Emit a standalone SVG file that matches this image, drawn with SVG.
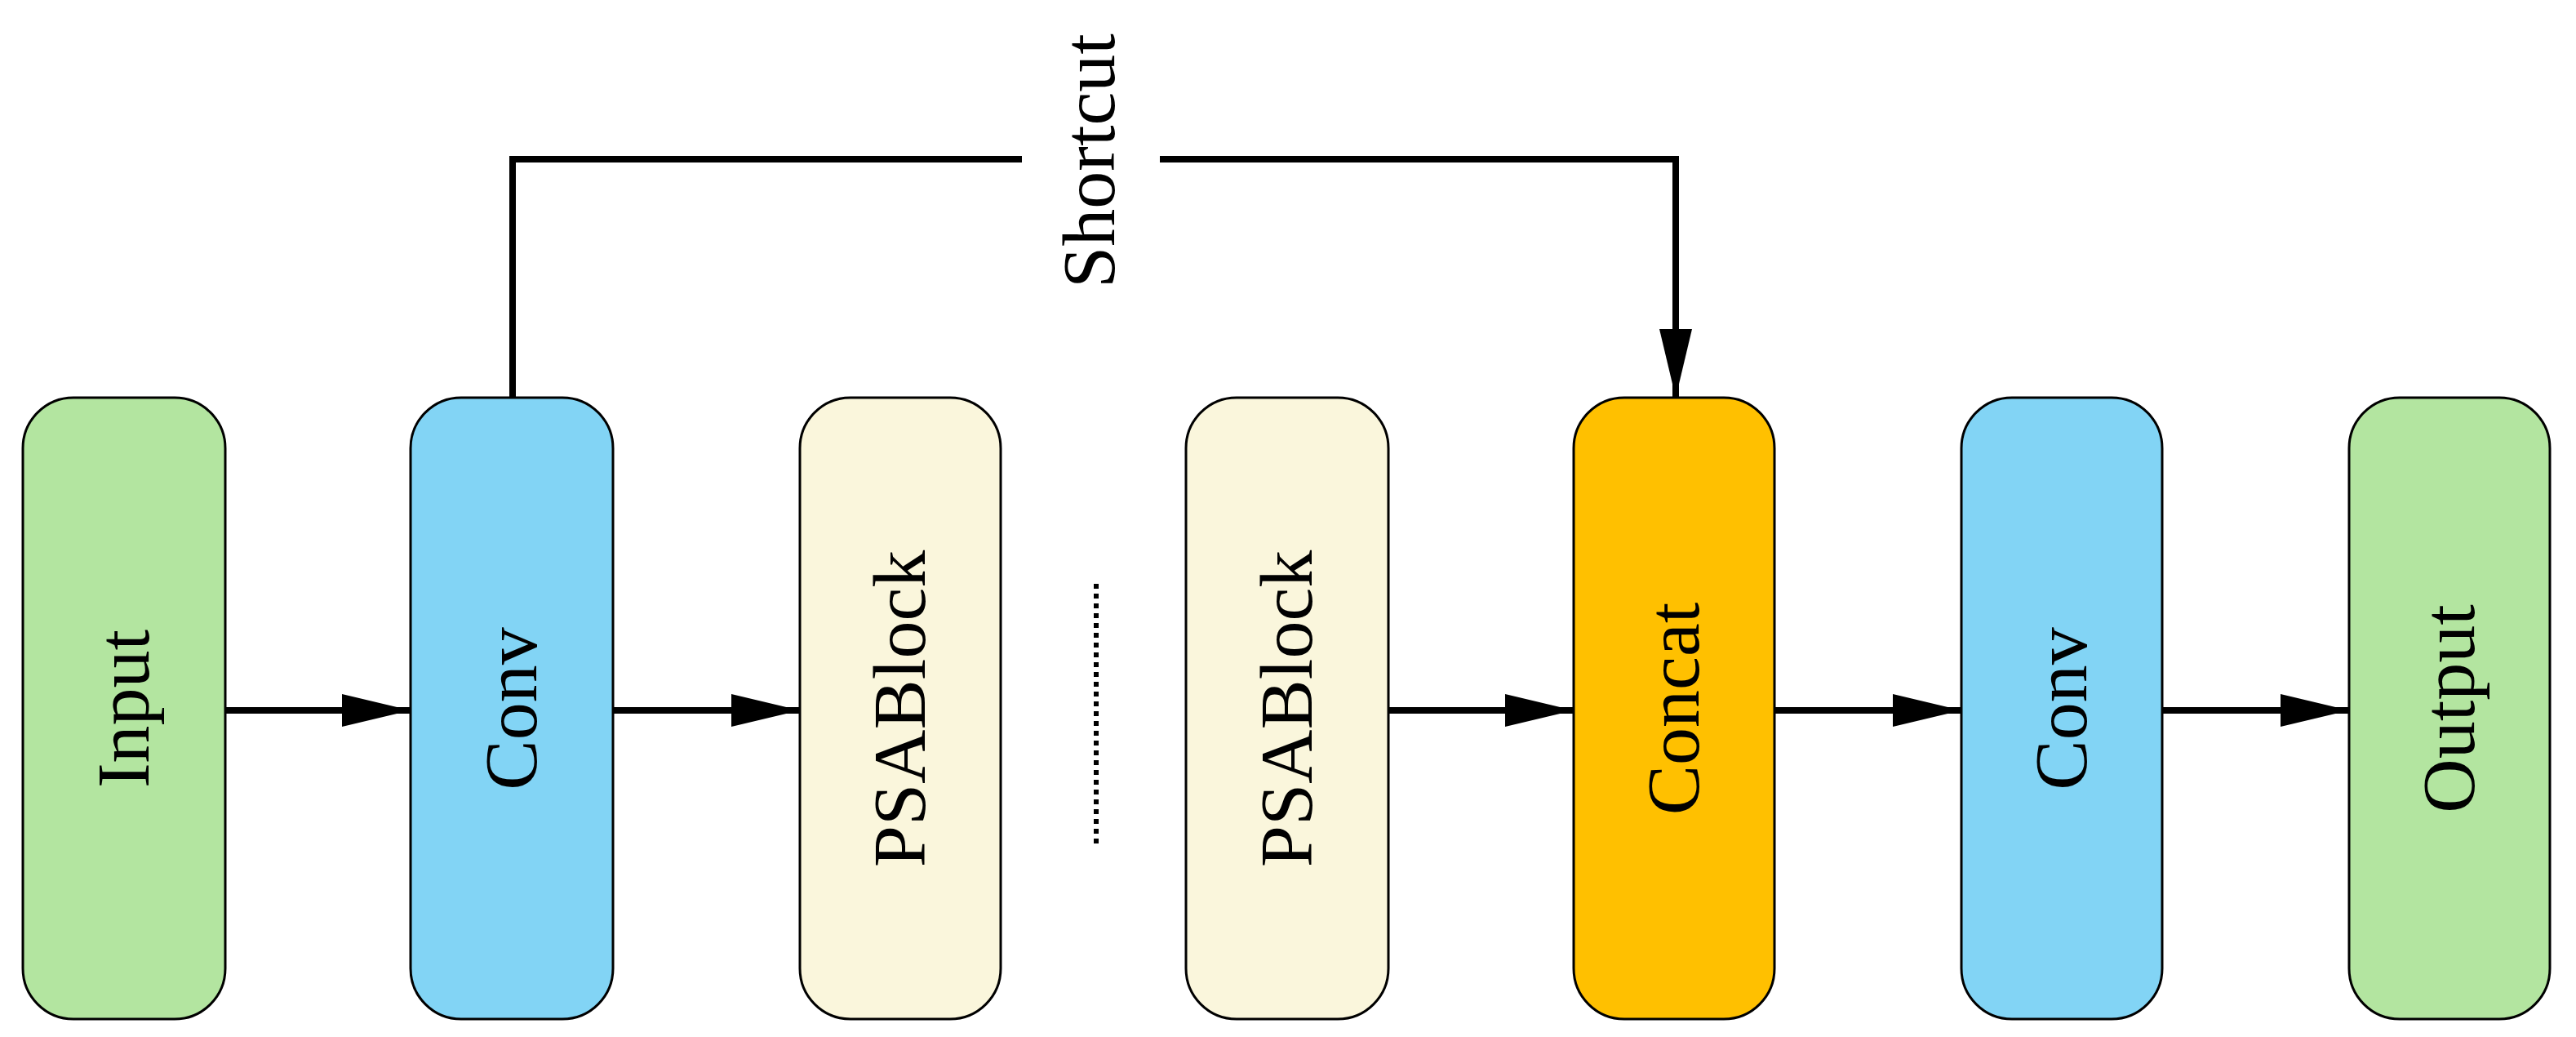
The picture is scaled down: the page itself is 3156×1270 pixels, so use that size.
<svg xmlns="http://www.w3.org/2000/svg" width="3156" height="1270" viewBox="0 0 3156 1270">
<style>
.n{stroke:#000;stroke-width:3}
.t{font-family:"Liberation Serif","DejaVu Serif",serif;font-size:92px;fill:#000}
.c{stroke:#000;stroke-width:8;fill:none}
</style>
<defs>
<marker id="a" markerUnits="userSpaceOnUse" markerWidth="84" markerHeight="44" refX="84" refY="22" orient="auto"><path d="M0,2 L84,22 L0,42 Z" fill="#000"/></marker>
</defs>
<rect width="3156" height="1270" fill="#fff"/>
<g id="input"><rect class="n" x="28" y="487" width="248" height="761" rx="62" fill="#b3e5a0"/><text class="t" text-anchor="middle" transform="translate(182,868) rotate(-90)">Input</text></g>
<g id="conv1"><rect class="n" x="503" y="487" width="248" height="761" rx="62" fill="#82d4f5"/><text class="t" text-anchor="middle" transform="translate(657,868) rotate(-90)">Conv</text></g>
<g id="psa1"><rect class="n" x="980" y="487" width="246" height="761" rx="62" fill="#faf6dc"/><text class="t" text-anchor="middle" transform="translate(1133,868) rotate(-90)">PSABlock</text></g>
<g id="psa2"><rect class="n" x="1453" y="487" width="248" height="761" rx="62" fill="#faf6dc"/><text class="t" text-anchor="middle" transform="translate(1607,868) rotate(-90)">PSABlock</text></g>
<g id="concat"><rect class="n" x="1928" y="487" width="246" height="761" rx="62" fill="#ffc000"/><text class="t" text-anchor="middle" transform="translate(2081,868) rotate(-90)">Concat</text></g>
<g id="conv2"><rect class="n" x="2403" y="487" width="246" height="761" rx="62" fill="#82d4f5"/><text class="t" text-anchor="middle" transform="translate(2556,868) rotate(-90)">Conv</text></g>
<g id="output"><rect class="n" x="2878" y="487" width="246" height="761" rx="62" fill="#b3e5a0"/><text class="t" text-anchor="middle" transform="translate(3031,868) rotate(-90)">Output</text></g>
<g id="connectors">
<line class="c" x1="276" y1="870" x2="503" y2="870" marker-end="url(#a)"/>
<line class="c" x1="751" y1="870" x2="980" y2="870" marker-end="url(#a)"/>
<line class="c" x1="1701" y1="870" x2="1928" y2="870" marker-end="url(#a)"/>
<line class="c" x1="2174" y1="870" x2="2403" y2="870" marker-end="url(#a)"/>
<line class="c" x1="2649" y1="870" x2="2878" y2="870" marker-end="url(#a)"/>
<line x1="1343" y1="715" x2="1343" y2="1037" stroke="#000" stroke-width="6" stroke-dasharray="6,6"/>
<polyline class="c" points="628,487 628,195 1252,195"/>
<polyline class="c" points="1421,195 2053,195 2053,487" marker-end="url(#a)"/>
</g>
<text class="t" text-anchor="middle" transform="translate(1365,197) rotate(-90)">Shortcut</text>
</svg>
